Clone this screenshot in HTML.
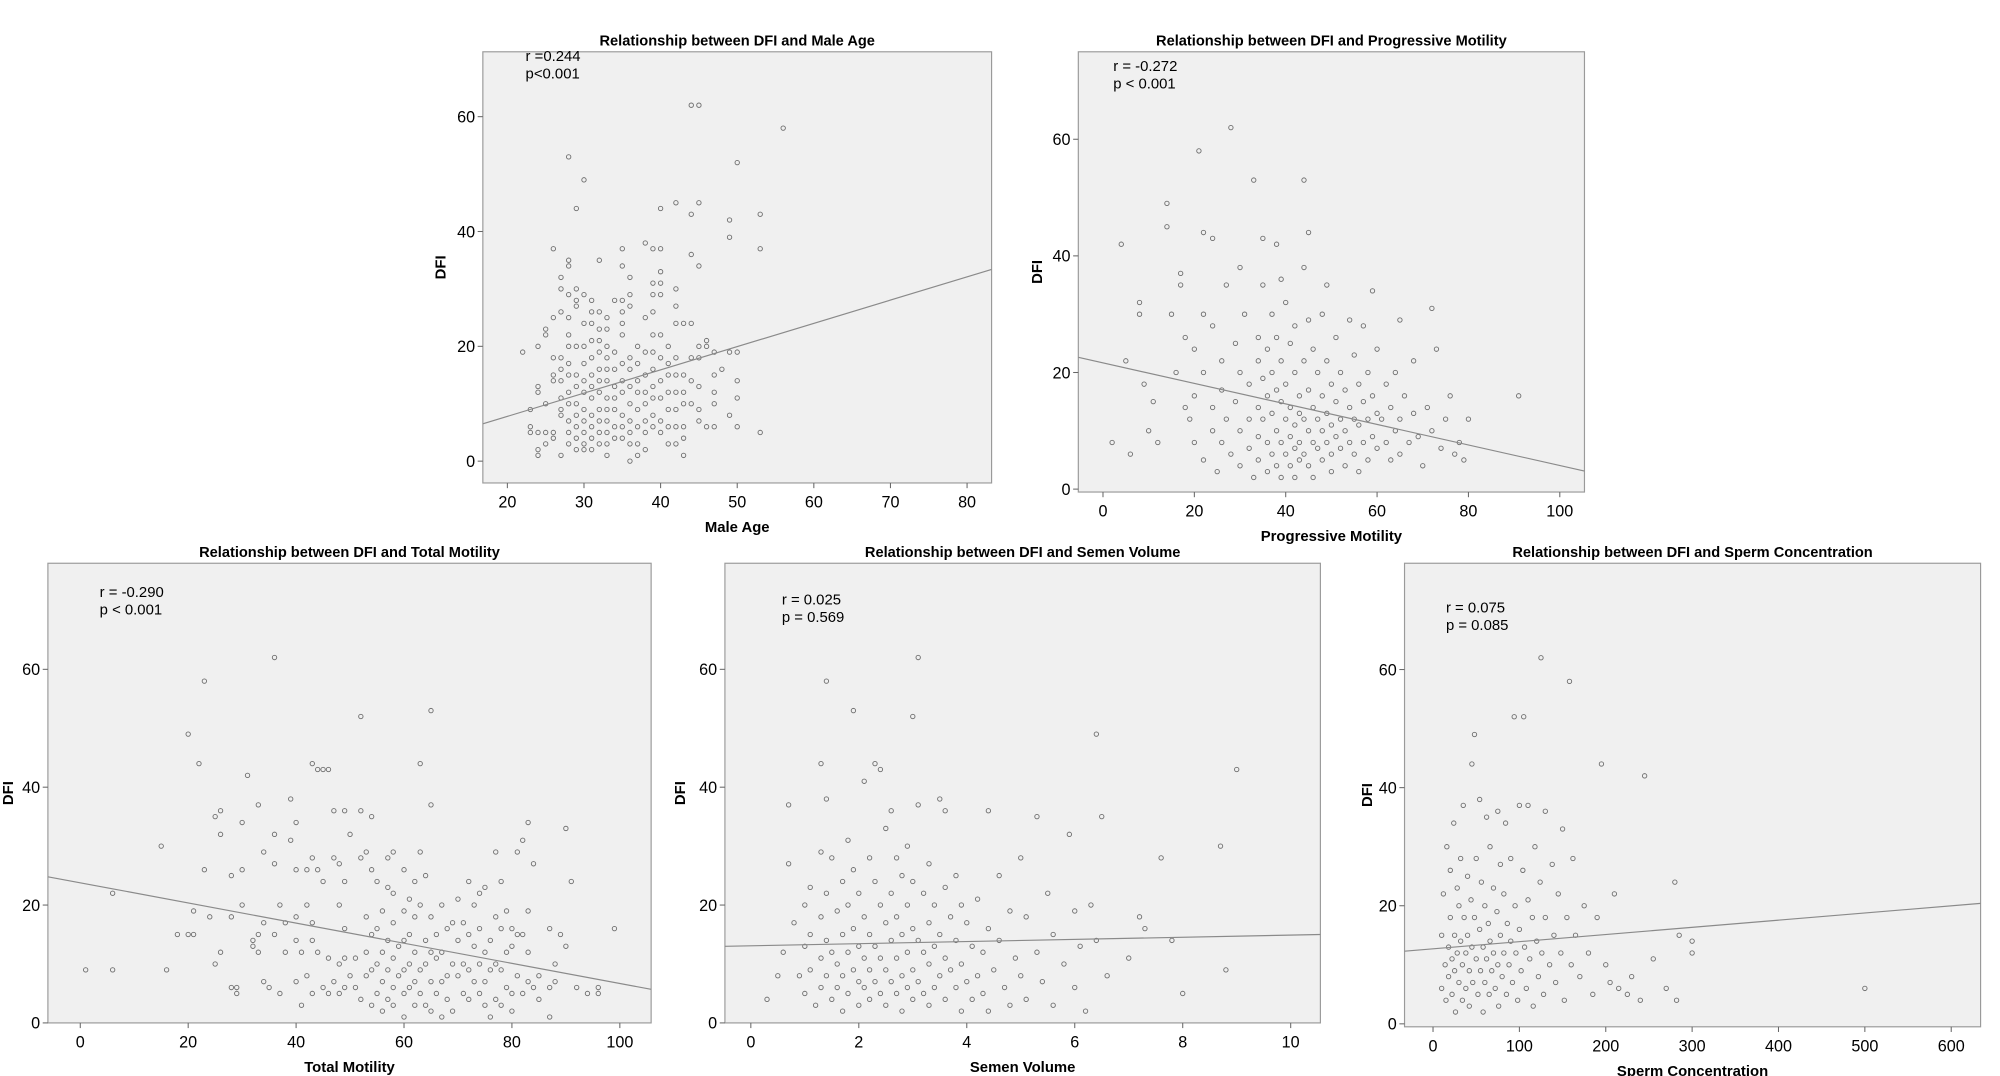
<!DOCTYPE html>
<html><head><meta charset="utf-8"><style>
html,body{margin:0;padding:0;background:#fff;}
svg{display:block;}
text{font-family:"Liberation Sans",sans-serif;fill:#000;}
</style></head><body>
<svg id="fig" width="2000" height="1076" viewBox="0 0 1545 831" preserveAspectRatio="none" xmlns="http://www.w3.org/2000/svg"></svg>
<script>
const ageData=[[22,19],[23,9],[23,6],[23,5],[24,20],[24,13],[24,12],[24,5],[24,2],[24,1],[25,23],[25,22],[25,10],[25,5],[25,3],[26,37],[26,25],[26,18],[26,15],[26,14],[26,5],[26,4],[27,32],[27,30],[27,26],[27,18],[27,16],[27,14],[27,11],[27,9],[27,8],[27,1],[28,53],[28,35],[28,34],[28,29],[28,25],[28,22],[28,20],[28,17],[28,15],[28,12],[28,10],[28,7],[28,5],[28,3],[29,44],[29,30],[29,28],[29,27],[29,20],[29,15],[29,13],[29,10],[29,8],[29,6],[29,4],[29,2],[30,49],[30,29],[30,24],[30,20],[30,17],[30,14],[30,12],[30,9],[30,7],[30,5],[30,3],[30,2],[31,28],[31,26],[31,24],[31,21],[31,18],[31,15],[31,13],[31,11],[31,8],[31,6],[31,4],[31,2],[32,35],[32,26],[32,23],[32,21],[32,19],[32,16],[32,14],[32,12],[32,9],[32,7],[32,5],[32,3],[33,25],[33,23],[33,20],[33,18],[33,16],[33,14],[33,11],[33,9],[33,7],[33,5],[33,3],[33,1],[34,28],[34,19],[34,16],[34,13],[34,11],[34,9],[34,6],[34,4],[35,37],[35,34],[35,28],[35,26],[35,24],[35,22],[35,17],[35,14],[35,12],[35,8],[35,6],[35,4],[36,32],[36,29],[36,27],[36,18],[36,16],[36,13],[36,10],[36,7],[36,5],[36,3],[36,0],[37,20],[37,17],[37,14],[37,12],[37,9],[37,6],[37,3],[37,1],[38,38],[38,25],[38,19],[38,15],[38,12],[38,10],[38,7],[38,5],[38,2],[39,37],[39,31],[39,29],[39,26],[39,22],[39,19],[39,16],[39,13],[39,11],[39,8],[39,6],[40,44],[40,37],[40,33],[40,31],[40,29],[40,22],[40,18],[40,14],[40,11],[40,7],[40,5],[41,20],[41,17],[41,15],[41,12],[41,9],[41,6],[41,3],[42,45],[42,30],[42,27],[42,24],[42,18],[42,15],[42,12],[42,9],[42,6],[42,3],[43,24],[43,15],[43,12],[43,10],[43,6],[43,4],[43,1],[44,62],[44,43],[44,36],[44,24],[44,18],[44,14],[44,10],[45,62],[45,45],[45,34],[45,20],[45,18],[45,13],[45,9],[45,7],[46,21],[46,20],[46,6],[47,19],[47,15],[47,12],[47,10],[47,6],[48,16],[49,42],[49,39],[49,19],[49,8],[50,52],[50,19],[50,14],[50,11],[50,6],[53,43],[53,37],[53,5],[56,58]];
const progData=[[2,8],[4,42],[5,22],[6,6],[8,32],[8,30],[9,18],[10,10],[11,15],[12,8],[14,45],[14,49],[15,30],[16,20],[17,35],[17,37],[18,26],[18,14],[19,12],[20,24],[20,16],[20,8],[21,58],[22,44],[22,30],[22,20],[22,5],[24,43],[24,28],[24,14],[24,10],[25,3],[26,22],[26,17],[26,8],[27,35],[27,12],[28,62],[28,6],[29,25],[29,15],[30,38],[30,20],[30,10],[30,4],[31,30],[32,18],[32,12],[32,7],[33,53],[33,2],[34,26],[34,22],[34,14],[34,9],[34,5],[35,43],[35,35],[35,19],[35,12],[36,24],[36,16],[36,8],[36,3],[37,30],[37,20],[37,13],[37,6],[38,42],[38,26],[38,17],[38,10],[38,4],[39,36],[39,22],[39,15],[39,8],[39,2],[40,32],[40,18],[40,12],[40,6],[41,25],[41,14],[41,9],[41,4],[42,28],[42,20],[42,11],[42,7],[42,2],[43,16],[43,13],[43,8],[43,5],[44,53],[44,38],[44,22],[44,12],[44,6],[45,44],[45,29],[45,17],[45,10],[45,4],[46,24],[46,14],[46,8],[46,2],[47,20],[47,12],[47,7],[48,30],[48,16],[48,10],[48,5],[49,35],[49,22],[49,13],[49,8],[50,18],[50,11],[50,6],[50,3],[51,26],[51,15],[51,9],[52,20],[52,12],[52,7],[53,17],[53,10],[53,4],[54,29],[54,14],[54,8],[55,23],[55,12],[55,6],[56,18],[56,11],[56,3],[57,28],[57,15],[57,8],[58,20],[58,12],[58,5],[59,34],[59,16],[59,9],[60,24],[60,13],[60,7],[61,12],[62,18],[62,8],[63,14],[63,5],[64,20],[64,10],[65,29],[65,12],[65,6],[66,16],[67,8],[68,22],[68,13],[69,9],[70,4],[71,14],[72,31],[72,10],[73,24],[74,7],[75,12],[76,16],[77,6],[78,8],[79,5],[80,12],[91,16]];
const totalData=[[1,9],[6,22],[6,9],[15,30],[16,9],[18,15],[20,49],[20,15],[21,15],[21,19],[22,44],[23,58],[23,26],[24,18],[25,35],[25,10],[26,36],[26,32],[26,12],[28,18],[28,25],[28,6],[29,6],[29,5],[30,34],[30,26],[30,20],[31,42],[32,14],[32,13],[33,37],[33,12],[33,15],[34,29],[34,17],[34,7],[35,6],[36,62],[36,32],[36,27],[36,15],[37,20],[37,5],[38,12],[38,17],[39,38],[39,31],[40,34],[40,26],[40,18],[40,14],[40,7],[41,12],[41,3],[42,20],[42,26],[42,8],[43,44],[43,28],[43,17],[43,14],[43,5],[44,43],[44,26],[44,12],[45,43],[45,24],[45,6],[46,43],[46,11],[46,5],[47,36],[47,28],[47,7],[48,27],[48,20],[48,10],[48,5],[49,36],[49,24],[49,16],[49,11],[49,6],[50,32],[50,8],[51,11],[51,6],[52,52],[52,36],[52,28],[52,4],[53,18],[53,12],[53,29],[53,8],[54,35],[54,26],[54,15],[54,9],[54,3],[55,24],[55,16],[55,10],[55,5],[56,19],[56,12],[56,7],[56,2],[57,28],[57,23],[57,14],[57,9],[57,4],[58,29],[58,22],[58,17],[58,11],[58,6],[58,3],[59,13],[59,8],[60,26],[60,19],[60,14],[60,9],[60,5],[60,1],[61,21],[61,15],[61,10],[61,6],[62,24],[62,18],[62,12],[62,7],[62,3],[63,44],[63,29],[63,20],[63,9],[63,5],[64,25],[64,14],[64,10],[64,3],[65,53],[65,37],[65,18],[65,12],[65,7],[65,2],[66,15],[66,11],[66,5],[67,20],[67,12],[67,7],[67,1],[68,16],[68,8],[68,4],[69,17],[69,10],[69,2],[70,21],[70,14],[70,8],[71,17],[71,10],[71,5],[72,24],[72,15],[72,9],[72,4],[73,20],[73,13],[73,7],[74,22],[74,16],[74,10],[74,5],[75,23],[75,12],[75,7],[75,3],[76,14],[76,9],[76,1],[77,29],[77,18],[77,10],[77,4],[78,24],[78,16],[78,9],[78,3],[79,19],[79,12],[79,6],[80,16],[80,13],[80,5],[80,2],[81,29],[81,15],[81,8],[82,31],[82,15],[82,5],[83,34],[83,19],[83,12],[83,7],[84,27],[84,6],[85,8],[85,4],[87,16],[87,6],[87,1],[88,10],[88,7],[89,15],[90,13],[90,33],[91,24],[92,6],[94,5],[96,5],[96,6],[99,16]];
const volData=[[0.3,4],[0.5,8],[0.6,12],[0.7,37],[0.7,27],[0.8,17],[0.9,8],[1.0,20],[1.0,13],[1.0,5],[1.1,23],[1.1,15],[1.1,9],[1.2,3],[1.3,44],[1.3,29],[1.3,18],[1.3,11],[1.3,6],[1.4,58],[1.4,38],[1.4,22],[1.4,14],[1.4,8],[1.5,28],[1.5,12],[1.5,4],[1.6,19],[1.6,10],[1.6,6],[1.7,24],[1.7,15],[1.7,8],[1.7,2],[1.8,31],[1.8,20],[1.8,12],[1.8,5],[1.9,53],[1.9,26],[1.9,16],[1.9,9],[2.0,22],[2.0,13],[2.0,7],[2.0,3],[2.1,41],[2.1,18],[2.1,11],[2.1,6],[2.2,28],[2.2,15],[2.2,9],[2.2,4],[2.3,44],[2.3,24],[2.3,13],[2.3,7],[2.4,43],[2.4,20],[2.4,11],[2.4,5],[2.5,33],[2.5,17],[2.5,9],[2.5,3],[2.6,36],[2.6,22],[2.6,14],[2.6,7],[2.7,28],[2.7,18],[2.7,11],[2.7,5],[2.8,25],[2.8,15],[2.8,8],[2.8,2],[2.9,30],[2.9,20],[2.9,12],[2.9,6],[3.0,52],[3.0,24],[3.0,16],[3.0,9],[3.0,4],[3.1,62],[3.1,37],[3.1,14],[3.1,7],[3.2,22],[3.2,12],[3.2,5],[3.3,27],[3.3,17],[3.3,10],[3.3,3],[3.4,20],[3.4,13],[3.4,6],[3.5,38],[3.5,15],[3.5,8],[3.6,36],[3.6,23],[3.6,11],[3.6,4],[3.7,18],[3.7,9],[3.8,25],[3.8,14],[3.8,6],[3.9,20],[3.9,10],[3.9,2],[4.0,17],[4.0,7],[4.1,13],[4.1,4],[4.2,21],[4.2,8],[4.3,12],[4.3,5],[4.4,36],[4.4,16],[4.4,2],[4.5,9],[4.6,25],[4.6,14],[4.7,6],[4.8,19],[4.8,3],[4.9,11],[5.0,28],[5.0,8],[5.1,18],[5.1,4],[5.3,35],[5.3,12],[5.4,7],[5.5,22],[5.6,15],[5.6,3],[5.8,10],[5.9,32],[6.0,19],[6.0,6],[6.1,13],[6.2,2],[6.3,20],[6.4,49],[6.4,14],[6.5,35],[6.6,8],[7.0,11],[7.2,18],[7.3,16],[7.6,28],[7.8,14],[8.0,5],[8.7,30],[8.8,9],[9.0,43]];
const concData=[[10,15],[10,6],[12,22],[14,10],[15,4],[16,30],[18,13],[18,8],[20,26],[20,18],[22,11],[22,5],[24,34],[25,15],[25,9],[26,2],[28,23],[28,12],[30,20],[30,7],[32,28],[32,14],[34,10],[34,4],[35,37],[36,18],[38,12],[38,6],[40,25],[40,15],[42,9],[42,3],[44,21],[45,44],[45,13],[46,7],[48,49],[48,18],[50,28],[50,11],[52,5],[54,38],[54,16],[55,9],[56,24],[58,13],[58,2],[60,20],[60,7],[62,35],[62,11],[64,17],[65,5],[66,30],[66,14],[68,9],[70,23],[70,12],[72,6],[74,19],[75,36],[75,10],[76,3],[78,27],[78,15],[80,8],[82,22],[82,12],[84,34],[85,5],[86,17],[88,10],[90,28],[90,14],[92,7],[94,52],[95,20],[96,12],[98,4],[100,37],[100,16],[102,9],[104,26],[105,52],[106,13],[108,6],[110,21],[110,37],[112,11],[115,18],[116,3],[118,30],[120,14],[122,8],[124,24],[125,62],[126,12],[128,5],[130,36],[130,18],[135,10],[138,27],[140,15],[142,7],[145,22],[148,12],[150,33],[152,4],[155,18],[158,58],[160,10],[162,28],[165,15],[170,8],[175,20],[180,12],[185,5],[190,18],[195,44],[200,10],[205,7],[210,22],[215,6],[225,5],[230,8],[240,4],[245,42],[255,11],[270,6],[280,24],[282,4],[285,15],[300,12],[300,14],[500,6]];
const yTicks=[0,20,40,60];
const ageTicks=[20,30,40,50,60,70,80];
const progTicks=[0,20,40,60,80,100];
const totalTicks=[0,20,40,60,80,100];
const volTicks=[0,2,4,6,8,10];
const concTicks=[0,100,200,300,400,500,600];
const ageFit=[6.5,33.4];
const progFit=[22.6,3.1];
const totalFit=[24.8,5.7];
const volFit=[13,15];
const concFit=[12.3,20.4];

const NS="http://www.w3.org/2000/svg";
const svg=document.getElementById('fig');
function mk(tag,attrs,parent,text){const e=document.createElementNS(NS,tag);for(const k in attrs)e.setAttribute(k,attrs[k]);if(text!==undefined)e.textContent=text;parent.appendChild(e);return e;}

function panel(cfg){
  const g=mk('g',{},svg);
  
  
  const b=cfg.box;
  const sx=v=>b[0]+(v-cfg.xd[0])/(cfg.xd[1]-cfg.xd[0])*(b[2]-b[0]);
  const sy=v=>b[3]-(v-cfg.yd[0])/(cfg.yd[1]-cfg.yd[0])*(b[3]-b[1]);
  const r=mk('rect',{x:b[0],y:b[1],width:b[2]-b[0],height:b[3]-b[1],fill:'#f0f0f0',stroke:'#9a9a9a','stroke-width':0.9},g);
  
  
  const t=mk('text',{x:(b[0]+b[2])/2,y:b[1]-5,'text-anchor':'middle','font-size':11.3,'font-weight':'bold'},g,cfg.title);
  
  
  yTicks.forEach(v=>{
    const y=sy(v);
    mk('line',{x1:b[0]-4,x2:b[0],y1:y,y2:y,stroke:'#666','stroke-width':0.8},g);
    const tl=mk('text',{x:b[0]-6,y:y+4.5,'text-anchor':'end','font-size':12.5},g,String(v));
    
    
  });
  cfg.xt.forEach(v=>{
    const x=sx(v);
    mk('line',{x1:x,x2:x,y1:b[3],y2:b[3]+4,stroke:'#666','stroke-width':0.8},g);
    const tl=mk('text',{x:x,y:b[3]+19,'text-anchor':'middle','font-size':12.5},g,String(v));
    
    
  });
  const xl=mk('text',{x:(b[0]+b[2])/2,y:b[3]+38,'text-anchor':'middle','font-size':11.5,'font-weight':'bold'},g,cfg.xlabel);
  
  
  const ylx=cfg.ylx, yly=(b[1]+b[3])/2;
  const yl=mk('text',{x:ylx,y:yly,'text-anchor':'middle','font-size':11.5,'font-weight':'bold',transform:`rotate(-90 ${ylx} ${yly})`},g,'DFI');
  
  
  const a1=mk('text',{x:cfg.ann[0],y:cfg.ann[1],'font-size':11.5},g,cfg.r);
  
  
  const a2=mk('text',{x:cfg.ann[0],y:cfg.ann[1]+13.5,'font-size':11.5},g,cfg.p);
  
  
  cfg.data.forEach(d=>{
    const c=mk('circle',{cx:sx(d[0]),cy:sy(d[1]),r:1.7,fill:'none',stroke:'#6e6e6e','stroke-width':0.7},g);
    
    
  });
  const ln=mk('line',{x1:b[0],y1:sy(cfg.fit[0]),x2:b[2],y2:sy(cfg.fit[1]),stroke:'#8a8a8a','stroke-width':0.9},g);
  
  
}

panel({id:'male-age',box:[373,40,766,373],xd:[16.8,83.2],yd:[-3.8,71.3],xt:ageTicks,data:ageData,fit:ageFit,title:'Relationship between DFI and Male Age',xlabel:'Male Age',ylx:344,ann:[406,47],r:'r =0.244',p:'p<0.001'});
panel({id:'progressive-motility',box:[833,40,1224,380],xd:[-5.4,105.4],yd:[-0.5,75],xt:progTicks,data:progData,fit:progFit,title:'Relationship between DFI and Progressive Motility',xlabel:'Progressive Motility',ylx:805,ann:[860,55],r:'r = -0.272',p:'p < 0.001'});
panel({id:'total-motility',box:[37,435,503,790],xd:[-6,105.8],yd:[0,78],xt:totalTicks,data:totalData,fit:totalFit,title:'Relationship between DFI and Total Motility',xlabel:'Total Motility',ylx:10,ann:[77,461],r:'r = -0.290',p:'p < 0.001'});
panel({id:'semen-volume',box:[560,435,1020,790],xd:[-0.48,10.55],yd:[0,78],xt:volTicks,data:volData,fit:volFit,title:'Relationship between DFI and Semen Volume',xlabel:'Semen Volume',ylx:529,ann:[604,467],r:'r = 0.025',p:'p = 0.569'});
panel({id:'sperm-concentration',box:[1085,435,1530,793],xd:[-33,634],yd:[-0.5,78],xt:concTicks,data:concData,fit:concFit,title:'Relationship between DFI and Sperm Concentration',xlabel:'Sperm Concentration',ylx:1060,ann:[1117,473],r:'r = 0.075',p:'p = 0.085'});
</script>
</body></html>
